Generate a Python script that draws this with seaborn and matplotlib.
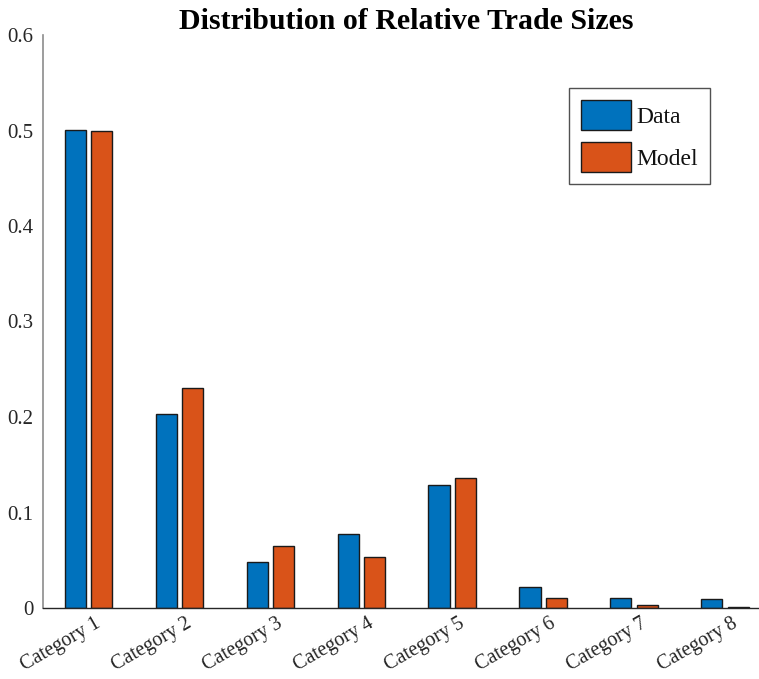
import matplotlib
matplotlib.use("Agg")
import matplotlib.pyplot as plt
from matplotlib.patches import Patch
from matplotlib.transforms import ScaledTranslation
import seaborn as sns
import pandas as pd

categories = [f"Category {i}" for i in range(1, 9)]
data_share = [0.501, 0.203, 0.048, 0.077, 0.129, 0.022, 0.010, 0.009]
model_share = [0.500, 0.230, 0.065, 0.053, 0.136, 0.010, 0.003, 0.001]
series_names = ["Data", "Model"]
colors = ["#0072BD", "#D95319"]
y_ticks = [0, 0.1, 0.2, 0.3, 0.4, 0.5, 0.6]
y_tick_labels = ["0", "0.1", "0.2", "0.3", "0.4", "0.5", "0.6"]

df = pd.DataFrame({
    "category": categories * 2,
    "share": data_share + model_share,
    "series": [series_names[0]] * len(categories) + [series_names[1]] * len(categories),
})

sns.set_style("white")
plt.rcParams["font.family"] = ["Liberation Serif", "DejaVu Serif"]

fig = plt.figure(figsize=(7.59, 6.79), dpi=100)
ax = fig.add_axes([43 / 759, 71 / 679, 727.5 / 759, 573 / 679])

sns.barplot(data=df, x="category", y="share", hue="series", order=categories,
            hue_order=series_names, palette=colors, saturation=1, width=0.58, gap=0.2,
            edgecolor="#1a1a1a", linewidth=1.0, ax=ax, legend=False)

ax.set_xlim(-0.5, 7.5)
ax.set_ylim(0, 0.6)
ax.set_yticks(y_ticks)
ax.set_yticklabels(y_tick_labels)
ax.set_xlabel("")
ax.set_ylabel("")

for side in ("top", "right"):
    ax.spines[side].set_visible(False)
ax.spines["left"].set_color("#8c8c8c")
ax.spines["left"].set_linewidth(1.2)
ax.spines["bottom"].set_color("#262626")
ax.spines["bottom"].set_linewidth(1.0)

ax.tick_params(axis="y", direction="in", length=7, width=1.0, color="#555555",
               labelsize=15, labelcolor="#262626", pad=7)
ax.tick_params(axis="x", direction="in", length=8, width=1.0, color="#999999",
               labelsize=14.5, labelcolor="#262626", pad=4)
shift = ScaledTranslation(6 / 100, -1 / 100, fig.dpi_scale_trans)
for lbl in ax.get_xticklabels():
    lbl.set_rotation(30)
    lbl.set_ha("right")
    lbl.set_rotation_mode("anchor")
    lbl.set_transform(lbl.get_transform() + shift)

ax.set_title("Distribution of Relative Trade Sizes", fontsize=21.5, fontweight="bold",
             color="black", x=(406 - 43) / 727.5, y=1.0, pad=4)

handles = [Patch(facecolor=c, edgecolor="#1a1a1a", linewidth=1.0) for c in colors]
leg = ax.legend(handles, series_names, loc="upper right",
                bbox_to_anchor=((710 - 43) / 727.5, (608 - 88) / 573),
                borderaxespad=0, prop={"size": 17}, frameon=True, fancybox=False,
                edgecolor="#262626", handlelength=2.12, handleheight=1.59,
                handletextpad=0.25, labelspacing=0.5, borderpad=0.5)
leg.get_frame().set_linewidth(1.0)
for txt in leg.get_texts():
    txt.set_color("#111111")

fig.savefig("out.png", dpi=100)
